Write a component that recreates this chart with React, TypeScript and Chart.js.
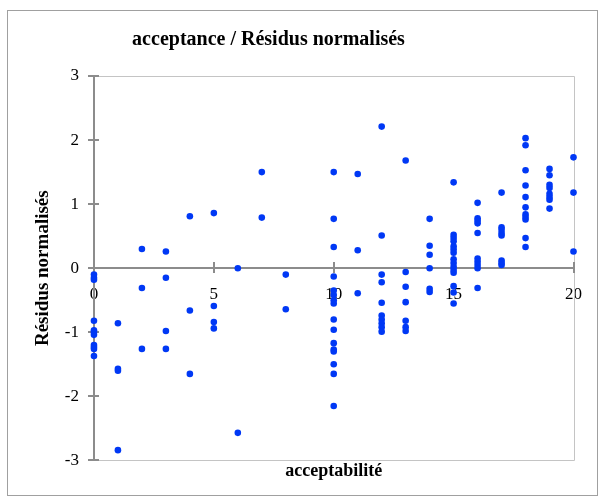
import React, { useEffect, useRef } from "react";
import { Chart, registerables } from "chart.js";

Chart.register(...registerables);

const TITLE = "acceptance / Résidus normalisés";
const X_TITLE = "acceptabilité";
const Y_TITLE = "Résidus normalisés";
const X_TICKS = [0, 5, 10, 15, 20];
const Y_TICKS = [-3, -2, -1, 0, 1, 2, 3];

const acceptabilite = [0, 1, 2, 3, 4, 5, 6, 7, 8, 9, 10, 11, 12, 13, 14, 15, 16, 17, 18, 19, 20];

const r0 = [-0.1, -0.15, -0.18, -0.82, -0.97, -1.0, -1.04, -1.2, -1.23, -1.26, -1.37];
const r1 = [-0.86, -1.57, -1.6, -2.84];
const r2 = [0.3, -0.31, -1.26];
const r3 = [0.26, -0.15, -0.98, -1.26];
const r4 = [0.81, -0.66, -1.65];
const r5 = [0.86, -0.59, -0.84, -0.94];
const r6 = [0.0, -2.57];
const r7 = [1.5, 0.79];
const r8 = [-0.1, -0.64];
const r9: number[] = [];
const r10 = [1.5, 0.77, 0.33, -0.13, -0.35, -0.42, -0.5, -0.55, -0.8, -0.96, -1.17, -1.27, -1.3, -1.5, -1.65, -2.15];
const r11 = [1.47, 0.28, -0.39];
const r12 = [2.21, 0.51, -0.1, -0.22, -0.54, -0.74, -0.8, -0.86, -0.92, -0.99];
const r13 = [1.68, -0.06, -0.29, -0.53, -0.82, -0.92, -0.98];
const r14 = [0.77, 0.35, 0.21, 0.0, -0.32, -0.37];
const r15 = [1.34, 0.52, 0.47, 0.42, 0.34, 0.29, 0.24, 0.14, 0.08, 0.02, -0.03, -0.07, -0.28, -0.38, -0.55];
const r16 = [1.02, 0.78, 0.74, 0.7, 0.55, 0.15, 0.1, 0.05, 0.0, -0.31];
const r17 = [1.18, 0.64, 0.6, 0.55, 0.51, 0.12, 0.08, 0.05];
const r18 = [2.03, 1.92, 1.53, 1.29, 1.11, 0.95, 0.84, 0.8, 0.76, 0.47, 0.33];
const r19 = [1.55, 1.45, 1.3, 1.25, 1.16, 1.11, 1.07, 0.93];
const r20 = [1.73, 1.18, 0.26];

const residus = [r0, r1, r2, r3, r4, r5, r6, r7, r8, r9, r10, r11, r12, r13, r14, r15, r16, r17, r18, r19, r20];

const SERIF = "'Liberation Serif', 'Times New Roman', serif";

const framePlugin = {
  id: "frame",
  beforeDraw(chart: any) {
    const { ctx, width, height } = chart;
    ctx.save();
    ctx.fillStyle = "#ffffff";
    ctx.fillRect(0, 0, width, height);
    ctx.strokeStyle = "#a0a0a0";
    ctx.lineWidth = 1;
    ctx.strokeRect(7.5, 10.5, 590, 485);
    ctx.restore();
  },
  beforeDatasetsDraw(chart: any) {
    const { ctx } = chart;
    const xs = chart.scales.x;
    const ys = chart.scales.y;
    const l = Math.round(xs.getPixelForValue(X_TICKS[0]));
    const r = Math.round(xs.getPixelForValue(X_TICKS[X_TICKS.length - 1]));
    const t = Math.round(ys.getPixelForValue(Y_TICKS[Y_TICKS.length - 1]));
    const b = Math.round(ys.getPixelForValue(Y_TICKS[0]));
    const y0 = Math.round(ys.getPixelForValue(0));
    ctx.save();
    ctx.strokeStyle = "#c4c4c4";
    ctx.lineWidth = 1;
    ctx.beginPath();
    ctx.moveTo(l, t + 0.5);
    ctx.lineTo(r + 0.5, t + 0.5);
    ctx.lineTo(r + 0.5, b + 0.5);
    ctx.lineTo(l, b + 0.5);
    ctx.stroke();

    ctx.strokeStyle = "#8c8c8c";
    ctx.lineWidth = 2;
    ctx.beginPath();
    ctx.moveTo(l, t);
    ctx.lineTo(l, b + 1);
    ctx.moveTo(l, y0);
    ctx.lineTo(r + 1, y0);
    for (const v of Y_TICKS) {
      const py = Math.round(ys.getPixelForValue(v));
      ctx.moveTo(l - 6, py);
      ctx.lineTo(l + 5, py);
    }
    for (const v of X_TICKS) {
      if (v === X_TICKS[0]) continue;
      const px = Math.round(xs.getPixelForValue(v));
      ctx.moveTo(px, y0 - 6);
      ctx.lineTo(px, y0 + 5);
    }
    ctx.stroke();
    ctx.restore();
  },
  afterDraw(chart: any) {
    const { ctx } = chart;
    ctx.save();
    ctx.fillStyle = "#000";
    ctx.font = `bold 20px ${SERIF}`;
    ctx.textAlign = "center";
    ctx.textBaseline = "middle";
    ctx.fillText(TITLE, 268.5, 40);
    ctx.restore();
  },
};

export default function App() {
  const ref = useRef<HTMLCanvasElement | null>(null);

  useEffect(() => {
    document.body.style.margin = "0";
    const canvas = ref.current;
    if (!canvas) return;
    const points: { x: number; y: number }[] = [];
    acceptabilite.forEach((a, i) => {
      residus[i].forEach((v) => points.push({ x: a, y: v }));
    });

    const chart = new Chart(canvas, {
      type: "scatter",
      data: {
        datasets: [
          {
            label: "Résidus normalisés",
            data: points,
            backgroundColor: "#0038f5",
            borderWidth: 0,
            pointRadius: 3.3,
            clip: false as any,
          },
        ],
      },
      options: {
        animation: false,
        responsive: false,
        devicePixelRatio: 1,
        layout: { padding: { left: 24, right: 24, top: 76, bottom: 8 } },
        plugins: {
          legend: { display: false },
          tooltip: { enabled: false },
          title: { display: false },
        },
        scales: {
          x: {
            type: "linear",
            position: { y: 0 } as any,
            min: 0,
            max: 20,
            grid: { display: false, drawTicks: false },
            border: { display: false },
            ticks: {
              stepSize: 5,
              color: "#000",
              padding: 16,
              font: { family: SERIF, size: 17 },
            },
          },
          x2: {
            type: "linear",
            position: "bottom",
            axis: "x",
            min: 0,
            max: 20,
            grid: { display: false, drawTicks: false },
            border: { display: false },
            ticks: { display: false },
            title: {
              display: true,
              text: X_TITLE,
              color: "#000",
              font: { family: SERIF, size: 18, weight: "bold" },
              padding: { top: 0, bottom: 12 },
            },
          },
          y: {
            type: "linear",
            min: -3,
            max: 3,
            grid: { display: false, drawTicks: false },
            border: { display: false },
            ticks: {
              stepSize: 1,
              color: "#000",
              padding: 15,
              font: { family: SERIF, size: 17 },
            },
            title: {
              display: true,
              text: Y_TITLE,
              color: "#000",
              font: { family: SERIF, size: 19, weight: "bold" },
              padding: { top: 8, bottom: -5 },
            },
          },
        },
      },
      plugins: [framePlugin],
    });
    return () => chart.destroy();
  }, []);

  return (
    <div style={{ width: 598, height: 502 }}>
      <canvas ref={ref} width={598} height={502} style={{ display: "block" }} />
    </div>
  );
}
